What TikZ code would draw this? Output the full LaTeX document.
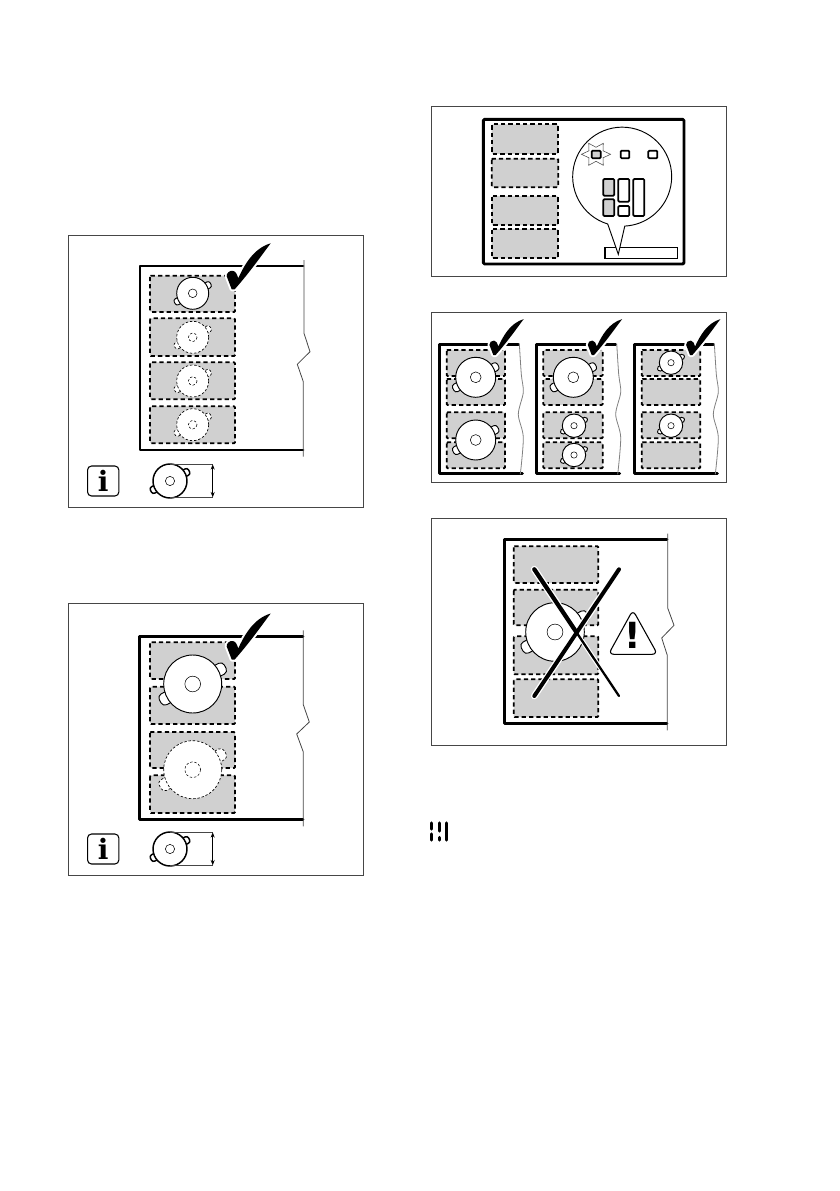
\documentclass[tikz,border=0pt]{standalone}
\usepackage{fontspec}
\usepackage{xcolor}
\usepackage{tikz}
\usetikzlibrary{calc,arrows.meta,positioning,shapes.geometric}
\newfontfamily\infofont{DejaVu Serif}
\newfontfamily\warnfont{DejaVu Sans}
\definecolor{zonegray}{RGB}{208,208,208}
\definecolor{framegray}{RGB}{70,70,70}

% one pan with two handles, centred at (#1,#2), radius #3, look #4
\newcommand{\panat}[4]{%
  \begin{scope}[shift={(#1,#2)}]
    \draw[#4,rotate=28,rounded corners={.11*#3 pt}] ({.8*#3},{-.21*#3}) rectangle ({1.27*#3},{.21*#3});
    \draw[#4,rotate=208,rounded corners={.11*#3 pt}] ({.8*#3},{-.21*#3}) rectangle ({1.27*#3},{.21*#3});
    \draw[#4] (0,0) circle (#3);
    \draw[#4,fill=none,line width=.4pt] (0,0) circle ({.27*#3});
  \end{scope}}
% tick, tip at (#1,#2), size #3
\newcommand{\tickat}[3]{%
  \fill[shift={(#1,#2)},scale=#3,black,preaction={draw=white,line width=3pt,line join=round}]
    (0,0) -- (-5,-13) .. controls (-5.5,-16) and (-2,-19) .. (1,-18.5)
    .. controls (4,-18) and (5.5,-15) .. (6.5,-11)
    .. controls (13,-25) and (22,-41) .. (39,-46)
    .. controls (32,-37) and (19,-18) .. (3,0) -- cycle;}
% panel at the foot: info box, pan and its size arrow
\newcommand{\sizerow}[1]{%
  \begin{scope}[shift={(0,#1)}]
    \node[infobox] (infoi#1) at (103.2,15) {i};
    \panat{170}{15}{17}{pansize}
    \coordinate (dimt#1) at (212.7,-1.7);
    \coordinate (dimb#1) at (212.7,31.3);
    \draw[framegray,line width=.6pt] (170,-1.7) -- (dimt#1);
    \draw[framegray,line width=.6pt] (170,31.3) -- (dimb#1);
    \draw[{Stealth[length=4pt,width=3pt]}-{Stealth[length=4pt,width=3pt]},line width=.6pt] (dimt#1) -- (dimb#1);
  \end{scope}}

\begin{document}
\begin{tikzpicture}[x=.75pt,y=-.75pt,
     panelbox/.style={draw=framegray,line width=.7pt},
     hobline/.style={line width=2.2pt,line cap=round,line join=round},
     breakline/.style={draw=framegray,line width=.6pt},
     zone/.style={draw=black,fill=zonegray,line width=1.4pt,dash pattern=on 3.2pt off 2.3pt,rounded corners=.8pt},
     panon/.style={draw=black,fill=white,line width=.7pt},
     panoff/.style={draw=black,fill=white,line width=.5pt,dash pattern=on 1.8pt off 1.4pt},
     pansize/.style={draw=black,fill=white,line width=1.1pt},
     infobox/.style={draw=black,line width=.8pt,rounded corners=3pt,minimum width=23.5pt,minimum height=22.5pt,inner sep=0pt,font=\fontsize{21}{21}\selectfont\infofont\bfseries},
     keybox/.style={draw=black,line width=1.3pt,rounded corners=.8pt}]
   \useasboundingbox (0,0) rectangle (839,1191);
   % left, upper panel
   \draw[panelbox] (68.3,235) rectangle (363.3,507.3);
   \foreach \ya/\yb in {275.7/312,318.3/356,362.3/399.3,406.3/443.3}
     \draw[zone] (150,\ya) rectangle (235,\yb);
   \draw[hobline] (303,266) -- (140,266) -- (140,450) -- (303,450);
   \draw[breakline] (304,260) -- (304,333.3) -- (310,351.7) -- (297.3,364.3) -- (303.3,381.7) -- (303.3,456.7);
   \panat{192.7}{293.3}{16}{panon}
   \panat{192.7}{337.3}{16}{panoff}
   \panat{192.7}{381}{16}{panoff}
   \panat{192.7}{424.7}{16}{panoff}
   \tickat{231.7}{289.3}{1}
   \sizerow{466}
   % left, lower panel
   \draw[panelbox] (68.3,603) rectangle (363.3,875.3);
   \foreach \ya/\yb in {642.3/679,686.7/724,732/768,775.3/813}
     \draw[zone] (150,\ya) rectangle (235,\yb);
   \draw[hobline] (303,636.3) -- (139.3,636.3) -- (139.3,819.7) -- (303,819.7);
   \draw[breakline] (303.3,630.3) -- (303.3,704.7) -- (309.3,722) -- (296.7,734) -- (303.3,752) -- (303.3,826.3);
   \panat{192.7}{684}{29}{panon}
   \panat{192.7}{769.7}{29}{panoff}
   \tickat{231.7}{659.5}{1}
   \sizerow{834}
   % control panel
   \draw[panelbox] (431.7,106) rectangle (726.7,276);
   \draw[hobline,rounded corners=1pt] (483.3,119.3) rectangle (684,264);
   \foreach \ya/\yb in {124.3/154,158.7/187.3,196/225.3,229/258.3}
     \draw[zone] (491.7,\ya) rectangle (558.3,\yb);
   \draw[black,line width=1.1pt,fill=white] (605,247.7) rectangle (677.3,258.3);
   \draw[panon] (607.7,224) arc[start angle=107,end angle=447,radius=49.5] -- (618.3,254.3) -- cycle;
   \node[star,star points=6,star point ratio=1.8,shape border rotate=30,draw=framegray,line width=.4pt,minimum size=19pt,inner sep=0pt,xscale=1.15] (flash) at (596,154.3) {};
   \draw[keybox,fill=zonegray] (591.7,150.7) rectangle (600.7,158.3);
   \draw[keybox] (620.7,150.7) rectangle (629.3,158.3);
   \draw[keybox] (648.3,150.7) rectangle (657.3,158.3);
   \draw[keybox,fill=zonegray] (603.3,179) rectangle (614.3,195.7);
   \draw[keybox,fill=zonegray] (603.3,199.3) rectangle (614.3,216);
   \draw[keybox] (618.3,179) rectangle (629.3,201.7);
   \draw[keybox] (618.3,206) rectangle (629.3,216);
   \draw[keybox] (633.3,179) rectangle (644.3,216);
   % three hobs
   \draw[panelbox] (431.7,312.3) rectangle (726.7,482.3);
   \foreach \hx/\zx/\ze in {439.3/446.7/505,536.7/543.3/602.7,634.3/641.7/700.3}{
     \foreach \ya/\yb in {350/376,379/405,412.3/438.3,442.3/468.3}
       \draw[zone] (\zx,\ya) rectangle (\ze,\yb);
     \draw[hobline] ($(\hx,344.3)+(79,0)$) -- (\hx,344.3) -- (\hx,473.3) -- ($(\hx,473.3)+(83,0)$);
     \draw[breakline,draw=gray] plot[smooth] coordinates {($(\hx,344.3)+(80,-1)$) ($(\hx,344.3)+(82,30)$) ($(\hx,344.3)+(84,48)$) ($(\hx,344.3)+(79,70)$) ($(\hx,344.3)+(84,93)$) ($(\hx,344.3)+(81,130)$)};
   }
   \panat{475.7}{377.3}{20}{panon}
   \panat{475.7}{440}{20}{panon}
   \panat{573.3}{377.3}{20}{panon}
   \panat{574}{425.7}{11.7}{panon}
   \panat{574}{455}{11.7}{panon}
   \panat{671}{362.7}{11.7}{panon}
   \panat{671}{425.7}{11.7}{panon}
   \tickat{493.3}{355}{.78}
   \tickat{591.7}{355}{.78}
   \tickat{690}{355}{.78}
   % wrong pan
   \draw[panelbox] (431.7,518) rectangle (726.7,745.3);
   \foreach \ya/\yb in {546.3/583,589.7/625.3,636.3/674.3,679.3/717}
     \draw[zone] (513.7,\ya) rectangle (598.3,\yb);
   \draw[hobline] (667,539.3) -- (504.3,539.3) -- (504.3,723.7) -- (667,723.7);
   \draw[breakline] (667.7,533.7) -- (667.7,608) -- (674,625.3) -- (661.7,638) -- (667.3,655.3) -- (667.3,730.3);
   \panat{555}{632}{29.3}{panon}
   \coordinate (xa) at (534.3,569.3);
   \coordinate (xb) at (619,696);
   \coordinate (xc) at (619,569.3);
   \coordinate (xd) at (534.3,696);
   \coordinate (xm) at (576.7,632.7);
   \draw[white,line width=5.2pt,line cap=round] (xa) -- (xm);
   \draw[white,line width=3.4pt,line cap=round] (xm) -- (xb);
   \draw[white,line width=5pt,line cap=round] (xc) -- (xd);
   \draw[black,line width=3.2pt,line cap=round] (xa) -- (xm);
   \draw[black,line width=1.7pt,line cap=round] (xm) -- (xb);
   \draw[black,line width=3pt,line cap=round] (xc) -- (xd);
   \draw[black,line width=.8pt,fill=white,rounded corners=4pt,line join=round] (632.9,610) -- (657.5,654.3) -- (608.5,654.3) -- cycle;
   \node[font=\fontsize{27}{27}\selectfont\warnfont\bfseries,inner sep=0pt] (warnmark) at (632.9,635) {!};
   % small page mark at the foot
   \foreach \bx/\ya/\yb in {431.7/823/829,431.7/834/840,439.3/823/831,439.3/837.5/840,446.7/823/840}
     \draw[black,line width=2.4pt,line cap=round] (\bx,\ya) -- (\bx,\yb);
  \end{tikzpicture}
\end{document}
